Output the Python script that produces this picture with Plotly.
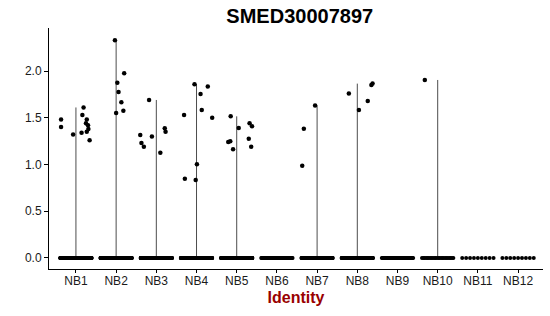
import numpy as np
import plotly.graph_objects as go

categories = ["NB1", "NB2", "NB3", "NB4", "NB5", "NB6", "NB7", "NB8", "NB9", "NB10", "NB11", "NB12"]

# non-zero expression values per identity
nb1_vals = [1.48, 1.40, 1.32, 1.61, 1.53, 1.48, 1.44, 1.42, 1.38, 1.35, 1.34, 1.26]
nb2_vals = [2.33, 1.975, 1.875, 1.775, 1.665, 1.575, 1.55]
nb3_vals = [1.69, 1.315, 1.23, 1.19, 1.30, 1.125, 1.387, 1.35]
nb4_vals = [1.857, 1.833, 1.754, 1.583, 1.50, 1.53, 0.848, 0.834, 1.002]
nb5_vals = [1.515, 1.39, 1.44, 1.41, 1.24, 1.248, 1.162, 1.276, 1.19]
nb6_vals = []
nb7_vals = [1.63, 1.383, 0.987]
nb8_vals = [1.76, 1.583, 1.68, 1.85, 1.865]
nb9_vals = []
nb10_vals = [1.904]
nb11_vals = []
nb12_vals = []

# horizontal jitter of those points (fraction of category spacing)
nb1_jit = [-0.37, -0.37, -0.07, 0.19, 0.16, 0.27, 0.25, 0.30, 0.31, 0.27, 0.14, 0.34]
nb2_jit = [-0.03, 0.20, 0.03, 0.06, 0.13, 0.18, 0.0]
nb3_jit = [-0.18, -0.40, -0.37, -0.31, -0.11, 0.10, 0.21, 0.23]
nb4_jit = [-0.05, 0.28, 0.10, 0.13, 0.39, -0.31, -0.29, -0.02, 0.01]
nb5_jit = [-0.15, 0.05, 0.32, 0.38, -0.21, -0.16, -0.09, 0.30, 0.36]
nb6_jit = []
nb7_jit = [-0.05, -0.33, -0.37]
nb8_jit = [-0.21, 0.04, 0.26, 0.35, 0.38]
nb9_jit = []
nb10_jit = [-0.32]
nb11_jit = []
nb12_jit = []

# number of cells with zero expression per identity (estimated)
zero_counts = [300, 260, 260, 260, 260, 60, 120, 160, 40, 24, 9, 9]

all_vals = [nb1_vals, nb2_vals, nb3_vals, nb4_vals, nb5_vals, nb6_vals,
            nb7_vals, nb8_vals, nb9_vals, nb10_vals, nb11_vals, nb12_vals]
all_jit = [nb1_jit, nb2_jit, nb3_jit, nb4_jit, nb5_jit, nb6_jit,
           nb7_jit, nb8_jit, nb9_jit, nb10_jit, nb11_jit, nb12_jit]

fig = go.Figure()

# violin outlines (collapsed to thin vertical lines: 0 .. max)
lx, ly = [], []
for i, vals in enumerate(all_vals):
    if vals:
        lx += [i, i, None]
        ly += [0, max(vals), None]
fig.add_trace(go.Scatter(x=lx, y=ly, mode="lines",
                         line=dict(color="#4d4d4d", width=1),
                         hoverinfo="skip", showlegend=False))

# zero-valued cells, spread across the jitter width
zx, zy = [], []
for i, n in enumerate(zero_counts):
    offs = np.linspace(-0.39, 0.39, n)
    zx += list(i + offs)
    zy += [0.0] * n
fig.add_trace(go.Scatter(x=zx, y=zy, mode="markers",
                         marker=dict(color="black", size=4),
                         showlegend=False))

# non-zero cells
px, py = [], []
for i, (vals, jit) in enumerate(zip(all_vals, all_jit)):
    px += [i + j for j in jit]
    py += vals
fig.add_trace(go.Scatter(x=px, y=py, mode="markers",
                         marker=dict(color="black", size=4.5),
                         showlegend=False))

fig.update_layout(
    width=550, height=316,
    margin=dict(l=49, r=7, t=28, b=47),
    paper_bgcolor="white", plot_bgcolor="white",
    font=dict(family="Liberation Sans, Arial, sans-serif", color="#1a1a1a", size=12),
    title=dict(text="<b>SMED30007897</b>", x=0.545, xanchor="center",
               y=0.95, yanchor="middle", font=dict(size=20, color="black")),
)
fig.update_xaxes(
    range=[-0.67, 11.62], tickmode="array",
    tickvals=list(range(len(categories))), ticktext=categories,
    showline=True, linecolor="black", linewidth=1, mirror=False,
    ticks="outside", ticklen=3, tickcolor="black", ticklabelstandoff=-2,
    showgrid=False, zeroline=False,
    tickfont=dict(size=12, color="#1a1a1a"),
    title=dict(text="<b>Identity</b>", font=dict(size=16, color="#990000"), standoff=4),
)
fig.update_yaxes(
    range=[-0.118, 2.46], tickmode="array",
    tickvals=[0, 0.5, 1.0, 1.5, 2.0], ticktext=["0.0", "0.5", "1.0", "1.5", "2.0"],
    showline=True, linecolor="black", linewidth=1,
    ticks="outside", ticklen=4, tickcolor="black",
    showgrid=False, zeroline=False,
    tickfont=dict(size=12, color="#1a1a1a"),
)

fig.write_html("out.html")
